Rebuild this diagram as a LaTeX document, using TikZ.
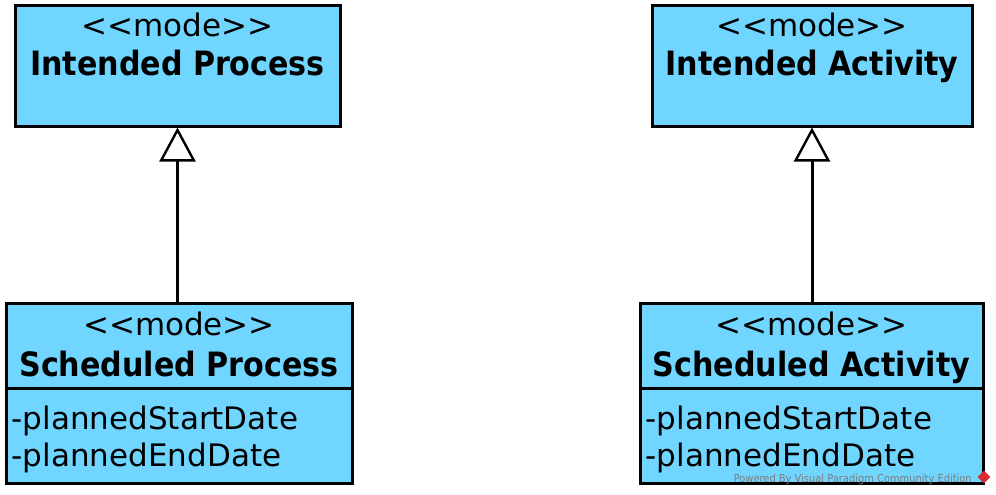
\documentclass[tikz,border=0pt]{standalone}
\usepackage{fontspec}
\setmainfont{DejaVu Sans}
\newfontfamily\condfont{DejaVu Sans Condensed}
\usetikzlibrary{positioning,arrows.meta}
\definecolor{modeblue}{RGB}{112,214,255}
\definecolor{vpgray}{RGB}{125,125,125}
\definecolor{vpred}{RGB}{215,45,50}

\begin{document}
\begin{tikzpicture}[x=1pt,y=-1pt]
	\tikzstyle{modebox}=[draw=black,fill=modeblue,line width=3pt,inner sep=0pt]
	\tikzstyle{stereo}=[anchor=base,inner sep=0pt,font=\fontsize{31}{36}\selectfont]
	\tikzstyle{modename}=[anchor=base,inner sep=0pt,font=\condfont\bfseries\fontsize{33.5}{36}\selectfont]
	\tikzstyle{attr}=[anchor=base west,inner sep=0pt,font=\fontsize{31}{36}\selectfont]
	\tikzstyle{generalize}=[line width=3pt,-{Triangle[open,length=34pt,width=36pt,line width=2.4pt]}]
	\useasboundingbox (0,0) rectangle (996,495);
	\foreach \cx/\tw/\bx/\bw/\kind[count=\a] in {177.5/325/179/346/Process,812/320/811.5/343/Activity}
	{\node[modebox,minimum width=\tw,minimum height=120] at (\cx,66) (ip\a) {};
		\node[stereo] at ([yshift=-32pt]ip\a.north) (is\a) {<\kern0pt<mode>\kern0pt>};
		\node[modename] at ([yshift=-71pt]ip\a.north) (in\a) {Intended \kind};
		\node[modebox,minimum width=\bw,minimum height=95] at (\bx,435.5) (at\a) {};
		\node[modebox,minimum width=\bw,minimum height=85] at (\bx,345.5) (sp\a) {};
		\node[stereo] at ([yshift=-34pt]sp\a.north) (ss\a) {<\kern0pt<mode>\kern0pt>};
		\node[modename] at ([yshift=-75pt]sp\a.north) (sn\a) {Scheduled \kind};
		\node[attr] at ([xshift=7pt,yshift=-43pt]at\a.north west) (sd\a) {-plannedStartDate};
		\node[attr] at ([xshift=7pt,yshift=-80pt]at\a.north west) (ed\a) {-plannedEndDate};
		\draw[generalize] (ip\a.south |- sp\a.north) -- (ip\a.south);}
	% watermark
	\node[anchor=base east,inner sep=0pt,text=vpgray,font=\condfont\fontsize{11}{12}\selectfont] at (972,482) (vp) {Powered By Visual Paradigm Community Edition};
	\node[fill=vpred,rotate=45,minimum size=9pt,inner sep=0pt] at (984,477) (vplogo) {};
\end{tikzpicture}
\end{document}
